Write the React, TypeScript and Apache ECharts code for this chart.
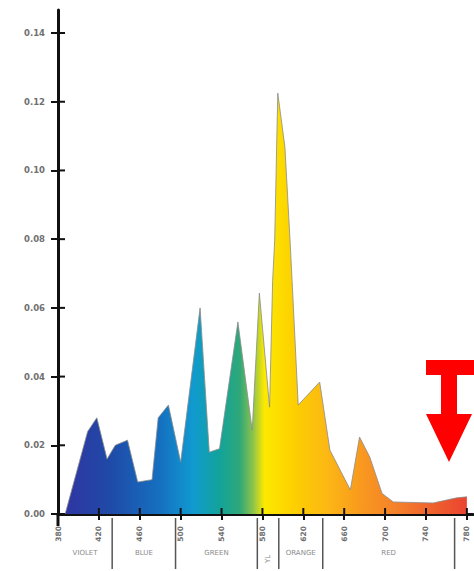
import React, { useEffect, useRef } from "react";
import * as echarts from "echarts";

const wavelengths = [380, 387, 409, 418, 428, 436, 448, 458, 472, 478, 488, 500, 519, 528, 538, 556, 570, 577, 587, 590, 592, 595, 602, 607, 609, 615, 636, 646, 666, 675, 685, 697, 708, 747, 770, 780];
const intensity = [0, 0, 0.024, 0.028, 0.016, 0.02, 0.0215, 0.0093, 0.01, 0.028, 0.0317, 0.0151, 0.06, 0.018, 0.019, 0.0559, 0.0244, 0.0643, 0.0311, 0.068, 0.0797, 0.1225, 0.1068, 0.0797, 0.068, 0.0317, 0.0384, 0.0186, 0.007, 0.0224, 0.0166, 0.006, 0.0035, 0.0032, 0.0047, 0.005];

const xTicks = [380, 420, 460, 500, 540, 580, 620, 660, 700, 740, 780];
const yTicks = [0, 0.02, 0.04, 0.06, 0.08, 0.1, 0.12, 0.14];

const bandNames = ["VIOLET", "BLUE", "GREEN", "YL", "ORANGE", "RED"];
const bandStarts = [380, 433, 495, 575, 596, 639];
const bandEnds = [433, 495, 575, 596, 639, 768];

const spectrumStops: [number, string][] = [
  [380, "#3232a0"],
  [431, "#1f4aa8"],
  [480, "#1570c0"],
  [512, "#109ad0"],
  [538, "#12a39a"],
  [558, "#30a878"],
  [571, "#8ec44a"],
  [582, "#fde900"],
  [610, "#fdd000"],
  [643, "#fcb814"],
  [675, "#f99a1e"],
  [708, "#f5832a"],
  [780, "#ea4430"],
];

const X_MIN = 380;
const X_MAX = 786;

export default function App() {
  const ref = useRef<HTMLDivElement>(null);
  useEffect(() => {
    if (!ref.current) return;
    const chart = echarts.init(ref.current, null, { renderer: "svg" });
    const labelFont = { color: "#707070", fontWeight: "bold" as const, fontFamily: "DejaVu Sans" };
    chart.setOption({
      animation: false,
      backgroundColor: "#ffffff",
      grid: { left: 58, right: 1, top: 10, bottom: 57 },
      xAxis: {
        type: "value",
        min: X_MIN,
        max: X_MAX,
        interval: 40,
        axisLine: { show: true, onZero: false, lineStyle: { color: "#111", width: 3 } },
        axisTick: { show: true, length: 6, customValues: xTicks, lineStyle: { color: "#111", width: 2 } },
        axisLabel: {
          ...labelFont,
          fontSize: 7.5,
          rotate: 90,
          margin: 12,
          customValues: xTicks,
          formatter: (v: number) => (xTicks.indexOf(v) >= 0 ? String(v) : ""),
        },
        splitLine: { show: false },
      },
      yAxis: {
        type: "value",
        min: 0,
        max: 0.1467,
        interval: 0.02,
        axisLine: { show: true, onZero: false, lineStyle: { color: "#111", width: 3 } },
        axisTick: { show: true, length: 7, customValues: yTicks, lineStyle: { color: "#111", width: 2 } },
        axisLabel: {
          ...labelFont,
          fontSize: 8.5,
          margin: 13,
          customValues: yTicks,
          showMaxLabel: true,
          formatter: (v: number) => (v > 0.1405 ? "" : v.toFixed(2)),
        },
        splitLine: { show: false },
      },
      series: [
        {
          type: "line",
          data: wavelengths.map((w, i) => [w, intensity[i]]),
          symbol: "none",
          lineStyle: { color: "#8a8a8a", width: 0.8 },
          areaStyle: {
            opacity: 1,
            color: new echarts.graphic.LinearGradient(
              0,
              0,
              1,
              0,
              spectrumStops.map(([nm, c]) => ({ offset: (nm - 380) / 400, color: c }))
            ),
          },
          z: 1,
        },
      ],
    });

    const px = (x: number, y: number) => chart.convertToPixel({ gridIndex: 0 }, [x, y]) as number[];
    const graphics: any[] = [];
    const base = px(X_MIN, 0);
    xTicks.forEach((t) => {
      const p = px(t, 0);
      graphics.push({ type: "line", shape: { x1: p[0], y1: p[1] - 6, x2: p[0], y2: p[1] }, style: { stroke: "#111", lineWidth: 2 }, z: 10 });
    });
    yTicks.forEach((t) => {
      const p = px(X_MIN, t);
      graphics.push({ type: "line", shape: { x1: p[0], y1: p[1], x2: p[0] + 7, y2: p[1] }, style: { stroke: "#111", lineWidth: 2 }, z: 10 });
    });
    graphics.push({ type: "line", shape: { x1: base[0], y1: base[1], x2: base[0], y2: base[1] + 12 }, style: { stroke: "#111", lineWidth: 3 }, z: 10 });
    bandEnds.forEach((b) => {
      const p = px(b, 0);
      graphics.push({ type: "line", shape: { x1: p[0], y1: p[1] + 4, x2: p[0], y2: p[1] + 55 }, style: { stroke: "#555", lineWidth: 1.5 }, z: 10 });
    });
    bandNames.forEach((name, i) => {
      const c = px((bandStarts[i] + bandEnds[i]) / 2, 0);
      const vertical = name === "YL";
      graphics.push({
        type: "text",
        x: c[0],
        y: vertical ? c[1] + 45 : c[1] + 39,
        rotation: vertical ? Math.PI / 2 : 0,
        style: {
          text: name,
          fill: "#8a8a8a",
          font: "7px 'DejaVu Sans'",
          textAlign: "center",
          textVerticalAlign: "middle",
          align: "center",
          verticalAlign: "middle",
        },
        z: 10,
      });
    });
    graphics.push({
      type: "polygon",
      shape: {
        points: [[426, 360], [474, 360], [474, 375], [457, 375], [457, 414], [472, 414], [449, 462], [426, 414], [441, 414], [441, 375], [426, 375]],
      },
      style: { fill: "#ff0000" },
      z: 20,
    });
    chart.setOption({ graphic: graphics });

    return () => chart.dispose();
  }, []);
  return <div ref={ref} style={{ position: "absolute", left: 0, top: 0, width: 474, height: 571 }} />;
}
